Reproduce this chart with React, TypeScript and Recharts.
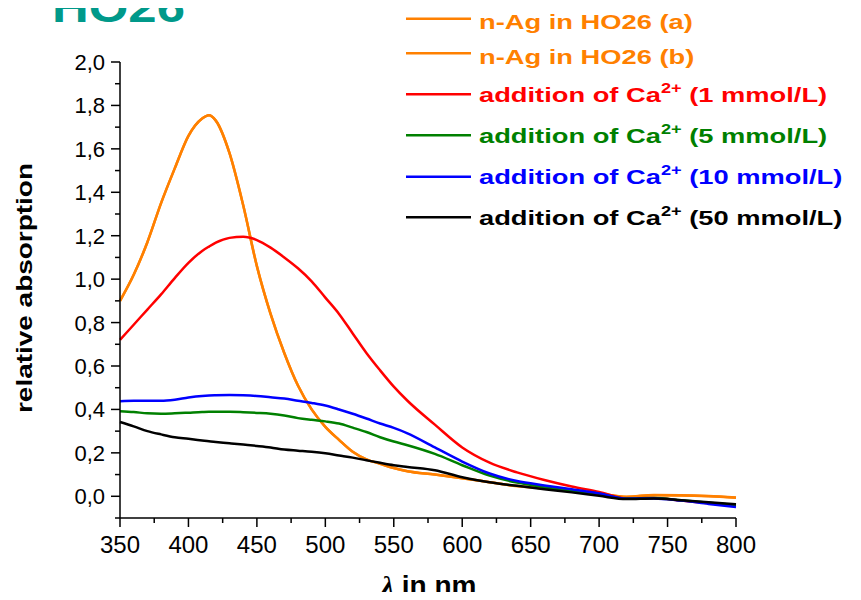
import { LineChart, Line, XAxis, YAxis, Legend } from 'recharts'

// wavelength in nm
const wavelength = [350, 360, 370, 380, 390, 400, 410, 415, 420, 430, 440, 450, 460, 470, 480, 490, 500, 510, 520, 530, 540, 550, 560, 580, 600, 620, 640, 660, 680, 700, 720, 740, 760, 780, 800]

// relative absorption per series
const agA = [0.90, 1.02, 1.17, 1.35, 1.51, 1.66, 1.74, 1.755, 1.73, 1.58, 1.34, 1.06, 0.84, 0.66, 0.51, 0.40, 0.32, 0.26, 0.205, 0.17, 0.15, 0.13, 0.115, 0.10, 0.083, 0.065, 0.047, 0.037, 0.025, 0.013, -0.003, 0.005, 0.004, 0.0, -0.007]
const agB = [0.90, 1.02, 1.17, 1.35, 1.51, 1.66, 1.74, 1.755, 1.73, 1.58, 1.34, 1.06, 0.84, 0.66, 0.51, 0.40, 0.32, 0.26, 0.205, 0.17, 0.15, 0.13, 0.115, 0.10, 0.083, 0.065, 0.047, 0.037, 0.025, 0.013, -0.002, 0.006, 0.005, 0.001, -0.006]
const ca1 = [0.72, 0.79, 0.86, 0.93, 1.005, 1.075, 1.13, 1.15, 1.168, 1.19, 1.195, 1.18, 1.145, 1.10, 1.05, 0.99, 0.915, 0.84, 0.75, 0.66, 0.58, 0.505, 0.44, 0.33, 0.225, 0.155, 0.11, 0.075, 0.045, 0.02, -0.01, -0.008, -0.02, -0.032, -0.045]
const ca5 = [0.392, 0.388, 0.382, 0.38, 0.382, 0.385, 0.388, 0.389, 0.389, 0.389, 0.387, 0.384, 0.38, 0.372, 0.36, 0.352, 0.345, 0.335, 0.316, 0.296, 0.272, 0.252, 0.235, 0.195, 0.143, 0.095, 0.063, 0.042, 0.025, 0.012, -0.01, -0.008, -0.018, -0.03, -0.04]
const ca10 = [0.438, 0.44, 0.44, 0.44, 0.445, 0.455, 0.462, 0.464, 0.465, 0.466, 0.465, 0.462, 0.456, 0.45, 0.44, 0.43, 0.418, 0.40, 0.38, 0.358, 0.335, 0.315, 0.29, 0.225, 0.16, 0.105, 0.07, 0.05, 0.032, 0.013, -0.011, -0.01, -0.02, -0.035, -0.049]
const ca50 = [0.342, 0.322, 0.30, 0.285, 0.272, 0.265, 0.257, 0.253, 0.25, 0.244, 0.238, 0.232, 0.225, 0.215, 0.21, 0.205, 0.198, 0.188, 0.178, 0.166, 0.154, 0.143, 0.135, 0.12, 0.088, 0.065, 0.048, 0.032, 0.018, 0.002, -0.013, -0.01, -0.018, -0.027, -0.037]

const xTicks = [350, 375, 400, 425, 450, 475, 500, 525, 550, 575, 600, 625, 650, 675, 700, 725, 750, 775, 800]
const yTicks = [-0.1, 0, 0.1, 0.2, 0.3, 0.4, 0.5, 0.6, 0.7, 0.8, 0.9, 1.0, 1.1, 1.2, 1.3, 1.4, 1.5, 1.6, 1.7, 1.8, 1.9, 2.0]

const series = [
  { key: 'agA', name: 'n-Ag in HO26 (a)', color: '#FF8000' },
  { key: 'agB', name: 'n-Ag in HO26 (b)', color: '#FF8000' },
  { key: 'ca1', name: 'addition of Ca', sup: '2+', rest: ' (1 mmol/L)', color: '#FF0000' },
  { key: 'ca5', name: 'addition of Ca', sup: '2+', rest: ' (5 mmol/L)', color: '#008000' },
  { key: 'ca10', name: 'addition of Ca', sup: '2+', rest: ' (10 mmol/L)', color: '#0000FF' },
  { key: 'ca50', name: 'addition of Ca', sup: '2+', rest: ' (50 mmol/L)', color: '#000000' },
]

const data = wavelength.map((w, i) => ({
  w,
  agA: agA[i],
  agB: agB[i],
  ca1: ca1[i],
  ca5: ca5[i],
  ca10: ca10[i],
  ca50: ca50[i],
}))

const FONT = '"Liberation Sans", Arial, sans-serif'

const YTick = (props: any) => {
  const { x, y, payload } = props
  const v = payload.value
  const major = Math.round(v * 10) % 2 === 0
  return (
    <g>
      <line x1={x} y1={y} x2={x - (major ? 9 : 5)} y2={y} stroke="#000" strokeWidth={1.5} />
      {major && (
        <text x={x - 15} y={y + 8} textAnchor="end" fontSize={22} fill="#000" fontFamily={FONT}>
          {v.toFixed(1).replace('.', ',')}
        </text>
      )}
    </g>
  )
}

const XTick = (props: any) => {
  const { x, y, payload } = props
  const v = payload.value
  const major = v % 50 === 0
  return (
    <g>
      <line x1={x} y1={y} x2={x} y2={y + (major ? 9 : 5)} stroke="#000" strokeWidth={1.5} />
      {major && (
        <text x={x} y={y + 35} textAnchor="middle" fontSize={24} fill="#000" fontFamily={FONT}>
          {v}
        </text>
      )}
    </g>
  )
}

// legend rows: line y
const rowLine = [18.7, 53.3, 94.3, 135.3, 176.7, 217.3]

const renderLegend = () => (
  <svg width={461} height={235} style={{ display: 'block' }}>
    {series.map((s, i) => {
      const ly = rowLine[i]
      const by = s.sup ? ly + 7.5 : ly + 10.5
      return (
        <g key={s.key}>
          <line x1={6} y1={ly} x2={71} y2={ly} stroke={s.color} strokeWidth={2.5} />
          <text
            transform={`translate(79 ${by}) scale(1.3 1)`}
            fontSize={21}
            fontWeight="bold"
            fill={s.color}
            fontFamily={FONT}
          >
            {s.name}
            {s.sup && (
              <>
                <tspan fontSize={14} dy={-9}>{s.sup}</tspan>
                <tspan dy={9}>{s.rest}</tspan>
              </>
            )}
          </text>
        </g>
      )
    })}
  </svg>
)

export default function App() {
  return (
    <div style={{ margin: -8, position: 'relative', width: 861, height: 600, background: '#fff' }}>
      <svg width={300} height={40} style={{ position: 'absolute', left: 0, top: 0 }}>
        <text x={52} y={22} fontSize={42} fontWeight="bold" fill="#00998A" fontFamily={FONT} textLength={133} lengthAdjust="spacingAndGlyphs">
          HO26
        </text>
      </svg>
      <LineChart
        width={861}
        height={600}
        data={data}
        margin={{ top: 62, right: 125, left: 60, bottom: 32 }}
        style={{ position: 'absolute', left: 0, top: 0 }}
      >
        <XAxis
          dataKey="w"
          type="number"
          domain={[350, 800]}
          ticks={xTicks}
          interval={0}
          height={50}
          tickSize={0}
          tickMargin={0}
          tickLine={false}
          tick={<XTick />}
          axisLine={{ stroke: '#000', strokeWidth: 1.5 }}
          label={{
            content: () => (
              <text x={429} y={594} textAnchor="middle" fontSize={25} fontWeight="bold" fill="#000" fontFamily={FONT} textLength={95} lengthAdjust="spacingAndGlyphs">
                <tspan fontFamily='"Liberation Serif", serif' fontStyle="italic">λ</tspan> in nm
              </text>
            ),
          }}
        />
        <YAxis
          type="number"
          domain={[-0.1, 2.0]}
          ticks={yTicks}
          interval={0}
          width={60}
          tickSize={0}
          tickMargin={0}
          tickLine={false}
          tick={<YTick />}
          axisLine={{ stroke: '#000', strokeWidth: 1.5 }}
          label={{
            content: () => (
              <text x={32} y={288} transform="rotate(-90 32 288)" textAnchor="middle" fontSize={22} fontWeight="bold" fill="#000" fontFamily={FONT} textLength={250} lengthAdjust="spacingAndGlyphs">
                relative absorption
              </text>
            ),
          }}
        />
        <Legend
          layout="vertical"
          verticalAlign="middle"
          align="center"
          content={renderLegend}
          wrapperStyle={{ left: 400, top: 0, width: 461, height: 235 }}
        />
        {series.map((s) => (
          <Line
            key={s.key}
            dataKey={s.key}
            name={s.name}
            type="monotone"
            stroke={s.color}
            strokeWidth={2.5}
            dot={false}
            isAnimationActive={false}
          />
        ))}
      </LineChart>
    </div>
  )
}
